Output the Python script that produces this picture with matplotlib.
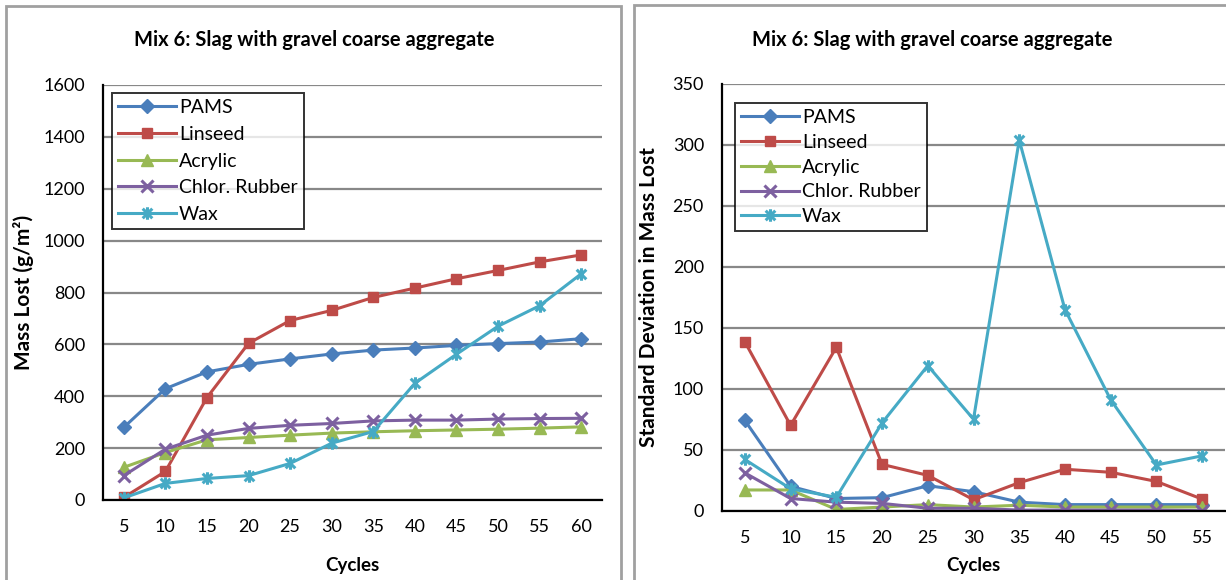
import matplotlib
matplotlib.use("Agg")
import matplotlib.pyplot as plt
from matplotlib.patches import Rectangle
from matplotlib.path import Path

# data
cycles_mass = [5, 10, 15, 20, 25, 30, 35, 40, 45, 50, 55, 60]
mass_lost = {
    "PAMS": [280, 429, 494, 523, 544, 563, 578, 586, 596, 603, 609, 622],
    "Linseed": [10, 110, 395, 604, 692, 731, 781, 817, 853, 885, 918, 945],
    "Acrylic": [126, 183, 232, 241, 250, 258, 263, 267, 270, 273, 277, 282],
    "Chlor. Rubber": [94, 196, 250, 276, 288, 295, 305, 308, 308, 312, 314, 315],
    "Wax": [8, 64, 83, 94, 141, 219, 264, 450, 562, 670, 749, 872],
}
cycles_sd = [5, 10, 15, 20, 25, 30, 35, 40, 45, 50, 55]
sd_mass_lost = {
    "PAMS": [74, 20, 10, 10.7, 20.5, 15.6, 7, 5, 5, 5, 5],
    "Linseed": [138.5, 70, 134, 38, 29, 9, 23, 34, 31.5, 24, 9.5],
    "Acrylic": [17, 17, 1, 3, 5, 3, 4.5, 3, 3, 3, 3],
    "Chlor. Rubber": [31, 10, 7, 6, 2, 2, 0.5, 0.5, 0.5, 0.5, 0],
    "Wax": [42, 18, 11, 72, 119, 75, 304, 165, 91, 37.5, 45],
}
title = "Mix 6: Slag with gravel coarse aggregate"

# Excel-like "star" marker: x with a vertical bar
star = Path([(-1, -1), (1, 1), (-1, 1), (1, -1), (0, -1.3), (0, 1.3)],
            [Path.MOVETO, Path.LINETO, Path.MOVETO, Path.LINETO, Path.MOVETO, Path.LINETO])

styles = {
    "PAMS": dict(color="#4A7EBB", marker="D", ms=7),
    "Linseed": dict(color="#BE4B48", marker="s", ms=7),
    "Acrylic": dict(color="#98B954", marker="^", ms=9),
    "Chlor. Rubber": dict(color="#7D60A0", marker="x", ms=8, mew=2.2),
    "Wax": dict(color="#46AAC5", marker=star, ms=9, mew=2.2),
}

plt.rcParams["font.family"] = ["Lato", "DejaVu Sans"]
FS = 13
GRID = "#888888"


def draw_panel(ax, cycles, data, ymax, ystep, ylabel, legend_xy, lspace):
    x = list(range(len(cycles)))
    for name, vals in data.items():
        ax.plot(x, vals, lw=2.2, label=name, **styles[name])
    ax.set_xlim(-0.5, len(cycles) - 0.5)
    ax.set_ylim(0, ymax)
    ax.set_yticks(range(0, ymax + 1, ystep))
    ax.set_xticks(x, [str(c) for c in cycles])
    ax.tick_params(length=0, labelsize=FS, pad=14)
    ax.tick_params(axis="y", pad=13)
    ax.yaxis.grid(True, color=GRID, lw=1.6)
    ax.set_axisbelow(True)
    for s in ["top", "right"]:
        ax.spines[s].set_visible(False)
    for s in ["left", "bottom"]:
        ax.spines[s].set_linewidth(1.6)
        ax.spines[s].set_color("black")
    ax.set_xlabel("Cycles", fontsize=13.5, fontweight="bold", va="center")
    ax.set_ylabel(ylabel, fontsize=15, fontweight="bold", va="center")
    leg = ax.legend(loc="upper left", bbox_to_anchor=legend_xy, fontsize=14, frameon=True,
                    fancybox=False, edgecolor="black", handlelength=3.0, handletextpad=0.15,
                    labelspacing=lspace, borderpad=0.3, borderaxespad=0)
    leg.get_frame().set_linewidth(1.4)


fig = plt.figure(figsize=(12.26, 5.8), dpi=100)

# panel frames
fig.patches.append(Rectangle((6 / 1226, -0.1), 615 / 1226, 574 / 580 + 0.1,
                             transform=fig.transFigure, fill=False, ec="#a0a0a0", lw=2))
fig.patches.append(Rectangle((634 / 1226, -0.1), 0.6, 575 / 580 + 0.1,
                             transform=fig.transFigure, fill=False, ec="#a0a0a0", lw=2))

ax1 = fig.add_axes([103 / 1226, 80 / 580, 499 / 1226, 415 / 580])
draw_panel(ax1, cycles_mass, mass_lost, 1600, 200, "Mass Lost (g/m²)", (0.018, 0.98), 0.5)
ax1.yaxis.set_label_coords(-0.16, 0.5)
ax1.xaxis.set_label_coords(0.5, (15 - 80) / 415)
fig.text(314 / 1226, 540 / 580, title, ha="center", va="center", fontsize=14.5, fontweight="bold")

ax2 = fig.add_axes([722 / 1226, 69.3 / 580, 503 / 1226, 426.7 / 580])
draw_panel(ax2, cycles_sd, sd_mass_lost, 350, 50, "Standard Deviation in Mass Lost", (0.026, 0.955), 0.4)
ax2.yaxis.set_label_coords(-0.145, 0.5)
ax2.xaxis.set_label_coords(0.5, (15 - 69.3) / 426.7)
fig.text(932 / 1226, 540 / 580, title, ha="center", va="center", fontsize=14.5, fontweight="bold")

fig.savefig("out.png", dpi=100)
